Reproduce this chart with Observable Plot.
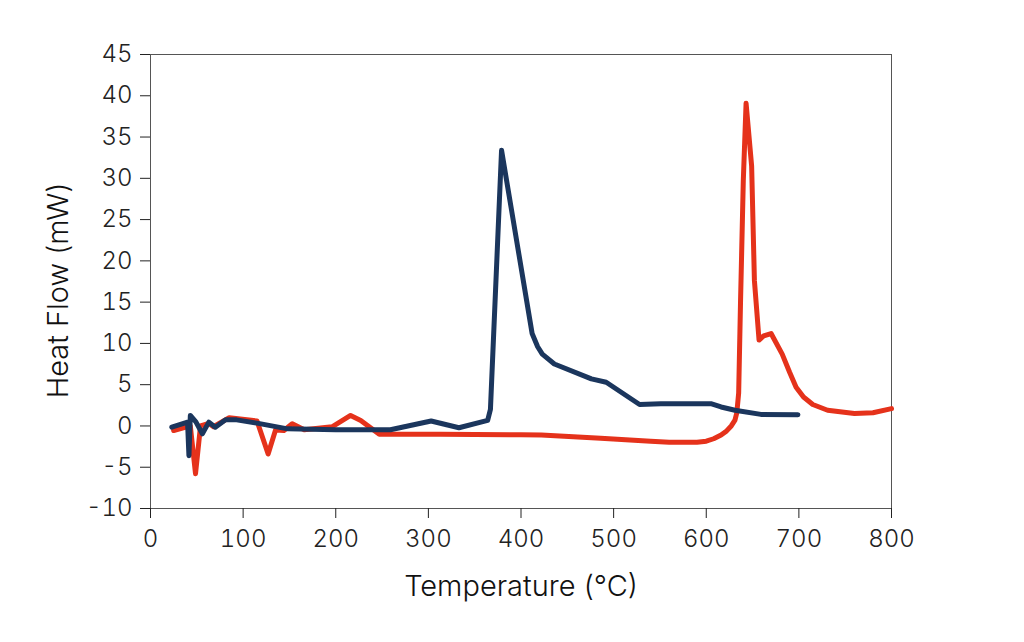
<!DOCTYPE html>
<html>
<head>
<meta charset="utf-8">
<script src="https://cdn.jsdelivr.net/npm/d3@7"></script>
<script src="https://cdn.jsdelivr.net/npm/@observablehq/plot@0.6"></script>
<style>
  body { margin: 0; background: #fff; }
</style>
</head>
<body>
<div id="chart"></div>
<script>
// red curve
const redTemp = [25, 43, 48.6, 54, 63, 68, 85, 115, 127, 135, 144, 153, 166, 196, 216, 227, 247, 313, 400, 422, 486, 540, 560, 590, 600, 608, 616, 622, 627, 631, 633, 635, 637, 640, 643, 649, 652, 657, 662, 670, 682, 690, 697, 705, 715, 731, 760, 780, 800];
const redFlow = [-0.55, 0, -5.8, 0, 0.3, -0.1, 1.0, 0.6, -3.4, -0.5, -0.55, 0.26, -0.46, -0.1, 1.27, 0.67, -1.0, -1.0, -1.07, -1.1, -1.5, -1.85, -1.98, -1.98, -1.85, -1.55, -1.1, -0.6, 0, 0.7, 1.6, 4, 15, 29.7, 39.1, 31.5, 17.6, 10.4, 10.9, 11.2, 8.7, 6.5, 4.7, 3.5, 2.6, 1.9, 1.5, 1.6, 2.1];

// blue curve
const blueTemp = [23, 40, 41.5, 43, 49, 56, 63, 70, 81, 93, 115, 148, 200, 259, 303, 333, 364, 367, 379, 412, 418, 423, 436, 476, 492, 528, 551, 605, 616, 631, 659, 699];
const blueFlow = [-0.15, 0.46, -3.6, 1.27, 0.5, -0.95, 0.46, -0.15, 0.74, 0.74, 0.34, -0.35, -0.46, -0.46, 0.6, -0.22, 0.67, 2, 33.4, 11.2, 9.6, 8.7, 7.5, 5.7, 5.3, 2.6, 2.7, 2.7, 2.3, 1.9, 1.4, 1.35];

const xTicks = d3.range(0, 801, 100);
const yTicks = d3.range(-10, 46, 5);

const red = redTemp.map((t, i) => ({t, v: redFlow[i]}));
const blue = blueTemp.map((t, i) => ({t, v: blueFlow[i]}));

const chart = Plot.plot({
  width: 1024,
  height: 642,
  marginLeft: 150,
  marginRight: 133,
  marginTop: 54,
  marginBottom: 134,
  style: {fontFamily: "Inter, 'Noto Sans', sans-serif", background: "#fff"},
  x: {domain: [0, 800]},
  y: {domain: [-10, 45]},
  marks: [
    Plot.frame({stroke: "#555", strokeWidth: 1}),
    Plot.axisX({ticks: xTicks, tickSize: 10, tickPadding: 11, fontSize: 24, fontWeight: 300, label: null, tickFormat: d => `${d}`, color: "#222"}),
    Plot.axisY({ticks: yTicks, tickSize: 10, tickPadding: 8, fontSize: 24, fontWeight: 300, label: null, tickFormat: d => `${d}`, color: "#222"}),
    Plot.line(red, {x: "t", y: "v", stroke: "#e5321b", strokeWidth: 5, strokeLinejoin: "round", strokeLinecap: "round"}),
    Plot.line(blue, {x: "t", y: "v", stroke: "#1b365d", strokeWidth: 5, strokeLinejoin: "round", strokeLinecap: "round"}),
    Plot.text(["Temperature (°C)"], {frameAnchor: "bottom", textAnchor: "middle", lineAnchor: "middle", dy: 78, fontSize: 29, fontWeight: 300, fill: "#111"}),
    Plot.text(["Heat Flow (mW)"], {frameAnchor: "left", textAnchor: "middle", lineAnchor: "middle", dx: -92, dy: 9, rotate: -90, fontSize: 29, fontWeight: 300, fill: "#111"})
  ]
});

d3.select("#chart").append(() => chart);
</script>
</body>
</html>
